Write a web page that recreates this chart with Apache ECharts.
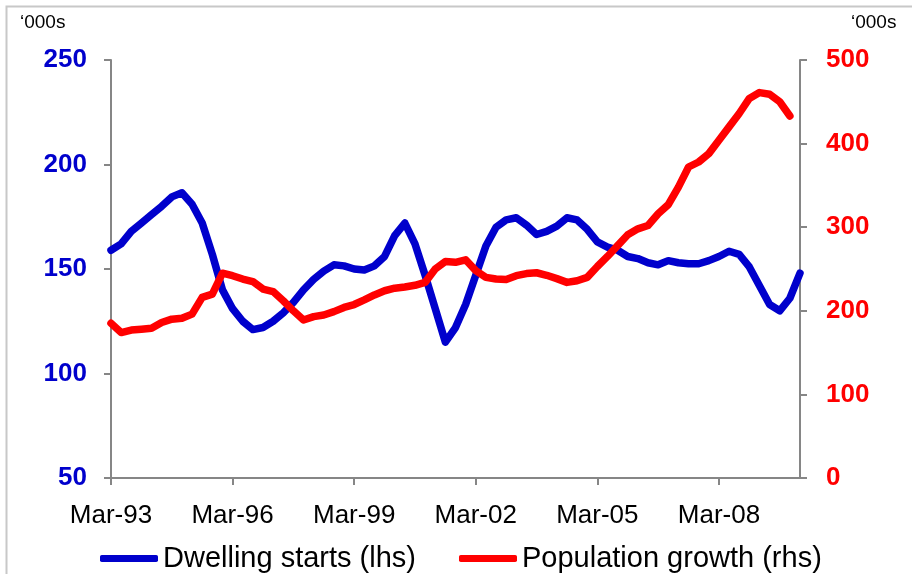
<!DOCTYPE html>
<html><head><meta charset="utf-8">
<script src="https://cdn.jsdelivr.net/npm/echarts/dist/echarts.min.js"></script>
<style>html,body{margin:0;padding:0;background:#fff}#c{width:912px;height:574px}</style>
</head><body><div id="c"></div>
<script>
const quarters = [
 "Mar-93","Jun-93","Sep-93","Dec-93","Mar-94","Jun-94","Sep-94","Dec-94",
 "Mar-95","Jun-95","Sep-95","Dec-95","Mar-96","Jun-96","Sep-96","Dec-96",
 "Mar-97","Jun-97","Sep-97","Dec-97","Mar-98","Jun-98","Sep-98","Dec-98",
 "Mar-99","Jun-99","Sep-99","Dec-99","Mar-00","Jun-00","Sep-00","Dec-00",
 "Mar-01","Jun-01","Sep-01","Dec-01","Mar-02","Jun-02","Sep-02","Dec-02",
 "Mar-03","Jun-03","Sep-03","Dec-03","Mar-04","Jun-04","Sep-04","Dec-04",
 "Mar-05","Jun-05","Sep-05","Dec-05","Mar-06","Jun-06","Sep-06","Dec-06",
 "Mar-07","Jun-07","Sep-07","Dec-07","Mar-08","Jun-08","Sep-08","Dec-08",
 "Mar-09","Jun-09","Sep-09","Dec-09","Mar-10"
];
const dwellingStarts = [
 159,162,168,172,176,180,184.5,186.5,181,172,157,140,131,125,121,122,
 125,129,134,140,145,149,152,151.5,150,149.5,151.5,156,166,172,162,147,
 131,115,122,133,147,161,170,173.5,174.5,171,166.5,168,170.5,174.5,173.5,169,
 163,160.5,159,156,155,153,152,154,153,152.5,152.5,154,156,158.5,157,151,
 142,133,130,136,148
];
const populationGrowth = [
 185,174,177,178,179,186,190,191,196,216,220,245,242,238,235,226,
 223,212,200,189,193,195,199,204,207.5,213,219,224,227,228.5,230.5,234,
 250,259,258,261,248,240,238,237.5,242,244.5,245.5,242.5,238.5,234,236,240,
 253,265,278,291,298,302,316,327,348,372,378,388,404,420,436,454,
 461,459,450,433
];
const seriesNames = ["Dwelling starts (lhs)", "Population growth (rhs)"];
const unitLabel = "\u2018000s";

const font = "'Liberation Sans', Arial, sans-serif";
const axisGrey = '#868686';
const blue = '#0000cc';
const red = '#ff0000';

const chart = echarts.init(document.getElementById('c'), null, {renderer: 'canvas'});
chart.setOption({
  animation: false,
  backgroundColor: '#ffffff',
  textStyle: {fontFamily: font},
  grid: {left: 111, right: 112, top: 60, bottom: 96, containLabel: false},
  legend: {
    left: 95, top: 539, itemWidth: 58, itemHeight: 7, itemGap: 43,
    icon: 'roundRect',
    textStyle: {fontSize: 29, color: '#000', fontFamily: font},
    data: seriesNames
  },
  graphic: [
    {type: 'rect', left: 4, top: 4, silent: true, z: -1,
     shape: {width: 930, height: 600},
     style: {fill: 'none', stroke: '#c8c8c8', lineWidth: 2}},
    {type: 'text', left: 20, top: 13,
     style: {text: unitLabel, fontSize: 19, fill: '#000', fontFamily: font}},
    {type: 'text', left: 851, top: 13,
     style: {text: unitLabel, fontSize: 19, fill: '#000', fontFamily: font}}
  ],
  xAxis: {
    type: 'category', data: quarters, boundaryGap: false,
    axisLine: {show: true, lineStyle: {color: axisGrey, width: 2}},
    axisTick: {show: true, interval: 11, length: 7, lineStyle: {color: axisGrey, width: 2}},
    axisLabel: {interval: 11, fontSize: 26, color: '#000', margin: 25, fontFamily: font},
    splitLine: {show: false}
  },
  yAxis: [
    {type: 'value', min: 50, max: 250, interval: 50, position: 'left',
     axisLine: {show: true, lineStyle: {color: axisGrey, width: 2}},
     axisTick: {show: true, length: 7, lineStyle: {color: axisGrey, width: 2}},
     axisLabel: {fontSize: 26, fontWeight: 'bold', color: blue, margin: 24, fontFamily: font},
     splitLine: {show: false}},
    {type: 'value', min: 0, max: 500, interval: 100, position: 'right',
     axisLine: {show: true, lineStyle: {color: axisGrey, width: 2}},
     axisTick: {show: true, length: 7, lineStyle: {color: axisGrey, width: 2}},
     axisLabel: {fontSize: 26, fontWeight: 'bold', color: red, margin: 26, fontFamily: font},
     splitLine: {show: false}}
  ],
  series: [
    {name: seriesNames[0], type: 'line', yAxisIndex: 0, data: dwellingStarts,
     symbol: 'none', showSymbol: false,
     lineStyle: {color: blue, width: 7.5, cap: 'round', join: 'round'},
     itemStyle: {color: blue}},
    {name: seriesNames[1], type: 'line', yAxisIndex: 1, data: populationGrowth,
     symbol: 'none', showSymbol: false,
     lineStyle: {color: red, width: 7.5, cap: 'round', join: 'round'},
     itemStyle: {color: red}}
  ]
});
</script>
</body></html>
